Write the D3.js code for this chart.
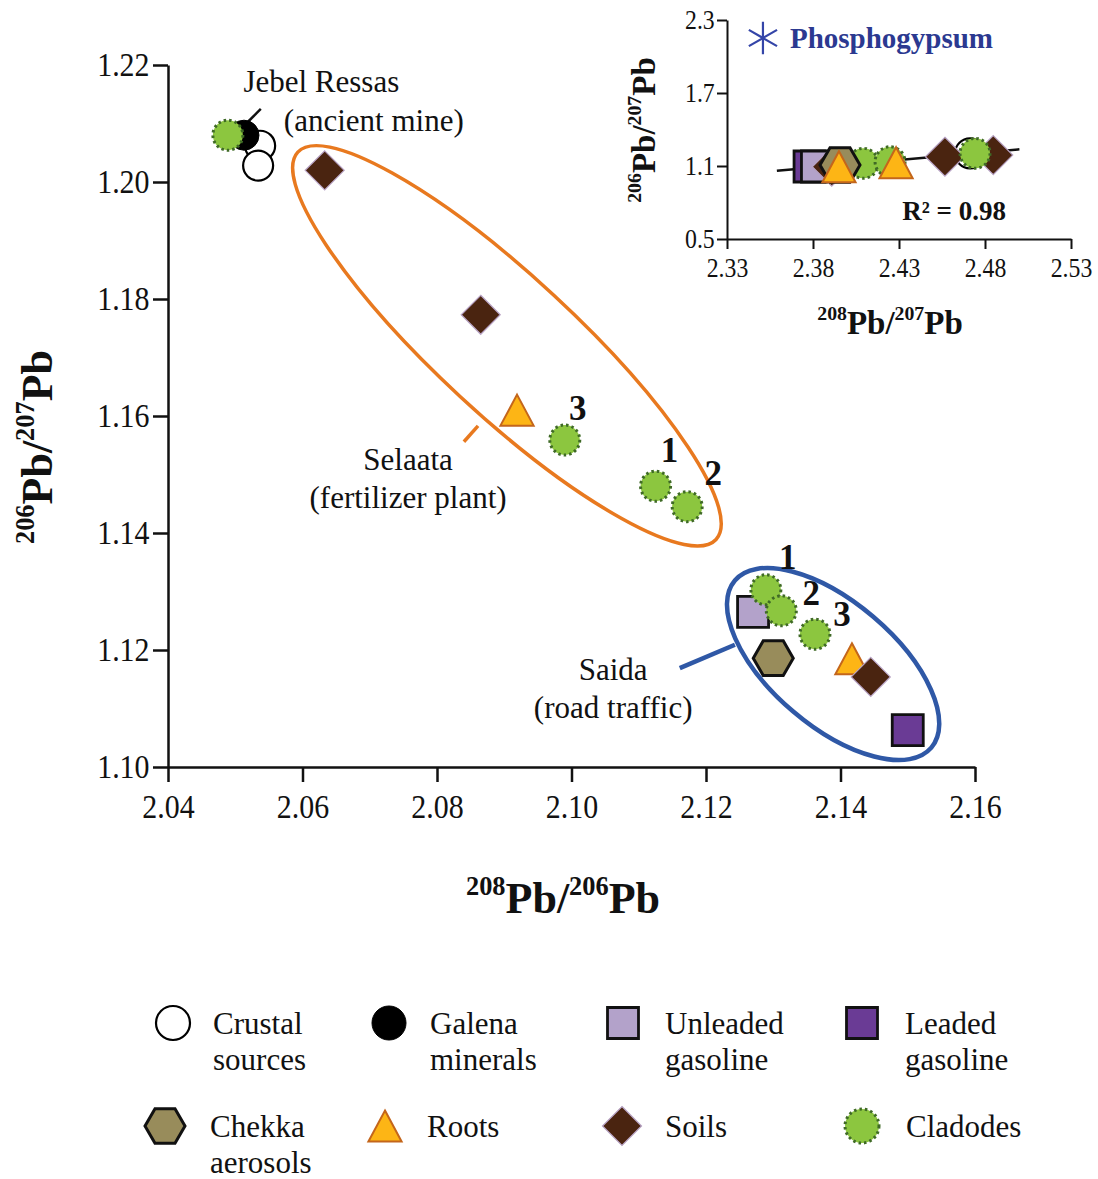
<!DOCTYPE html>
<html>
<head>
<meta charset="utf-8">
<script src="https://cdn.jsdelivr.net/npm/d3@7"></script>
<style>
  body { margin: 0; background: #fff; }
  text { font-family: "Liberation Serif", "Times New Roman", serif; fill: #111; }
</style>
</head>
<body>
<div id="chart"></div>
<script>
// main panel data: [208Pb/206Pb, 206Pb/207Pb]
var crustal  = [[2.0537, 1.2062], [2.0534, 1.2028]];
var galena   = [[2.0513, 1.2080]];
var unleaded = [[2.1270, 1.1265]];
var leaded   = [[2.1500, 1.1063]];
var chekka   = [[2.1300, 1.1186]];
var roots    = [[2.0919, 1.1610], [2.1417, 1.1185]];
var soils    = [[2.0633, 1.2020], [2.0865, 1.1773], [2.1445, 1.1154]];
var cladodes = [[2.0489, 1.2080], [2.0990, 1.1559], [2.1125, 1.1480], [2.1172, 1.1445],
                [2.1289, 1.1303], [2.1312, 1.1267], [2.1362, 1.1227]];
var cladodeLabels = ["", "3", "1", "2", "1", "2", "3"];

var xTicks = [2.04, 2.06, 2.08, 2.10, 2.12, 2.14, 2.16];
var yTicks = [1.10, 1.12, 1.14, 1.16, 1.18, 1.20, 1.22];

// inset data: [208Pb/207Pb, 206Pb/207Pb]
var insetCrustal  = [[2.4713, 1.204]];
var insetLeaded   = [[2.3780, 1.096]];
var insetUnleaded = [[2.3823, 1.096]];
var insetSoils    = [[2.3909, 1.094], [2.4567, 1.176], [2.4848, 1.190]];
var insetCladodes = [[2.4092, 1.122], [2.4248, 1.135], [2.4742, 1.204]];
var insetChekka   = [[2.3957, 1.108]];
var insetRoots    = [[2.3951, 1.094], [2.4283, 1.127]];
var insetFit      = [[2.359, 1.061], [2.500, 1.237]];
var insetXTicks = [2.33, 2.38, 2.43, 2.48, 2.53];
var insetYTicks = [0.5, 1.1, 1.7, 2.3];

var legendRows = [
  [["crustal", "Crustal", "sources"], ["galena", "Galena", "minerals"],
   ["unleaded", "Unleaded", "gasoline"], ["leaded", "Leaded", "gasoline"]],
  [["chekka", "Chekka", "aerosols"], ["roots", "Roots", ""],
   ["soils", "Soils", ""], ["cladodes", "Cladodes", ""]]
];

var SERIF = "'Liberation Serif', 'Times New Roman', serif";

// marker styles
var styles = {
  crustal:  {shape: "circle",  s: 15,   fill: "#fff",    stroke: "#000",    sw: 2.2},
  galena:   {shape: "circle",  s: 15,   fill: "#000",    stroke: "#000",    sw: 1},
  unleaded: {shape: "square",  s: 15.5, fill: "#b3a2ca", stroke: "#111",    sw: 2.8},
  leaded:   {shape: "square",  s: 15.5, fill: "#6a3b95", stroke: "#111",    sw: 2.8},
  chekka:   {shape: "hexagon", s: 20,   fill: "#988c5b", stroke: "#111",    sw: 3},
  roots:    {shape: "triangle",s: 15.5, fill: "#fdb515", stroke: "#c4661b", sw: 2},
  soils:    {shape: "diamond", s: 19.5, fill: "#4a2410", stroke: "#b9a4c6", sw: 1.2},
  cladodes: {shape: "circle",  s: 15,   fill: "#8cc63f", stroke: "#3f6a26", sw: 3, dash: "2.5,3"}
};

function shapePath(kind, s) {
  var p = d3.path();
  if (kind == "circle") {
    p.moveTo(s, 0); p.arc(0, 0, s, 0, 2 * Math.PI);
  } else if (kind == "square") {
    p.rect(-s, -s, 2 * s, 2 * s);
  } else if (kind == "diamond") {
    p.moveTo(0, -s); p.lineTo(s, 0); p.lineTo(0, s); p.lineTo(-s, 0);
  } else if (kind == "triangle") {
    p.moveTo(0, -s); p.lineTo(1.07 * s, s); p.lineTo(-1.07 * s, s);
  } else if (kind == "hexagon") {
    for (var i = 0; i < 6; i++) {
      var a = i * Math.PI / 3;
      if (i == 0) p.moveTo(s * Math.cos(a), s * Math.sin(a));
      else p.lineTo(s * Math.cos(a), s * Math.sin(a));
    }
  }
  p.closePath();
  return p.toString();
}

function drawMarkers(g, data, key, x, y) {
  var st = styles[key];
  g.append("g").selectAll("path")
    .data(data)
    .enter()
    .append("path")
    .attr("d", shapePath(st.shape, st.s))
    .attr("transform", d => `translate(${x(d[0])},${y(d[1])})`)
    .attr("fill", st.fill)
    .attr("stroke", st.stroke)
    .attr("stroke-width", st.sw)
    .attr("stroke-dasharray", st.dash || null);
}

// text with superscript mass numbers
function isoLabel(g, parts, size) {
  var t = g.append("text")
    .attr("text-anchor", "middle")
    .attr("font-weight", "bold")
    .attr("font-size", size);
  var up = false;
  parts.forEach(function(p) {
    var sup = /^\d+$/.test(p);
    var ts = t.append("tspan").text(p);
    if (sup) {
      ts.attr("font-size", size * 0.6).attr("dy", up ? 0 : -size * 0.42);
      up = true;
    } else {
      ts.attr("dy", up ? size * 0.42 : 0);
      up = false;
    }
  });
  return t;
}

// condensed serif tick labels like the original figure
function styleAxis(g, fontSize, lineWidth) {
  g.attr("font-family", SERIF);
  g.selectAll(".domain, .tick line").attr("stroke", "#111").attr("stroke-width", lineWidth);
  g.selectAll(".tick text")
    .attr("font-size", fontSize)
    .attr("fill", "#222")
    .attr("transform", "scale(0.88,1)")
    .style("font-family", SERIF);
}

var svgWidth = 1098;
var svgHeight = 1179;

var svg = d3.select("#chart")
  .append("svg")
  .attr("width", svgWidth)
  .attr("height", svgHeight)
  .attr("font-family", SERIF);

// ---------- main panel ----------
var x = d3.scaleLinear().domain([2.04, 2.16]).range([168, 975]);
var y = d3.scaleLinear().domain([1.10, 1.22]).range([767, 65]);

var main = svg.append("g");

var xAxisG = main.append("g")
  .attr("transform", `translate(0, ${y(1.10)})`)
  .call(d3.axisBottom(x).tickValues(xTicks).tickFormat(d3.format(".2f"))
    .tickSize(15).tickSizeOuter(0).tickPadding(12));
styleAxis(xAxisG, 34, 2.5);

var yAxisG = main.append("g")
  .attr("transform", `translate(${x(2.04)}, 0)`)
  .call(d3.axisLeft(y).tickValues(yTicks).tickFormat(d3.format(".2f"))
    .tickSize(15).tickSizeOuter(0).tickPadding(6));
styleAxis(yAxisG, 34, 2.5);

// group ellipses
var ellipses = [
  {cx: 2.0904, cy: 1.1720, rx: 285, ry: 69, angle: 42.8, color: "#e8791f", sw: 3.5},
  {cx: 2.1389, cy: 1.1176, rx: 129, ry: 62, angle: 40.4, color: "#2f58a6", sw: 4.5}
];
main.selectAll("ellipse")
  .data(ellipses)
  .enter()
  .append("ellipse")
  .attr("transform", d => `translate(${x(d.cx)},${y(d.cy)}) rotate(${d.angle})`)
  .attr("rx", d => d.rx)
  .attr("ry", d => d.ry)
  .attr("fill", "none")
  .attr("stroke", d => d.color)
  .attr("stroke-width", d => d.sw);

// leader lines
var leaders = [
  {x1: 2.0519, y1: 1.2103, x2: 2.0538, y2: 1.2125, color: "#111", sw: 2.5},
  {x1: 2.0840, y1: 1.1556, x2: 2.0861, y2: 1.1583, color: "#e8791f", sw: 3.5},
  {x1: 2.1161, y1: 1.1169, x2: 2.1243, y2: 1.1209, color: "#2f58a6", sw: 4.5}
];
main.selectAll("line.leader")
  .data(leaders)
  .enter()
  .append("line")
  .attr("class", "leader")
  .attr("x1", d => x(d.x1)).attr("y1", d => y(d.y1))
  .attr("x2", d => x(d.x2)).attr("y2", d => y(d.y2))
  .attr("stroke", d => d.color)
  .attr("stroke-width", d => d.sw);

var notes = [
  {x: 2.0628, y: 1.2154, text: "Jebel Ressas"},
  {x: 2.0706, y: 1.2087, text: "(ancient mine)"},
  {x: 2.0757, y: 1.1508, text: "Selaata"},
  {x: 2.0757, y: 1.1443, text: "(fertilizer plant)"},
  {x: 2.1062, y: 1.1149, text: "Saida"},
  {x: 2.1062, y: 1.1084, text: "(road traffic)"}
];
main.selectAll("text.note")
  .data(notes)
  .enter()
  .append("text")
  .attr("class", "note")
  .attr("x", d => x(d.x))
  .attr("y", d => y(d.y))
  .attr("text-anchor", "middle")
  .attr("font-size", 31)
  .text(d => d.text);

drawMarkers(main, crustal, "crustal", x, y);
drawMarkers(main, galena, "galena", x, y);
drawMarkers(main, unleaded, "unleaded", x, y);
drawMarkers(main, leaded, "leaded", x, y);
drawMarkers(main, chekka, "chekka", x, y);
drawMarkers(main, roots, "roots", x, y);
drawMarkers(main, soils, "soils", x, y);
drawMarkers(main, cladodes, "cladodes", x, y);

// sample numbers next to cladodes
var labelOffsets = [[0, 0], [13, -20], [14, -24], [26, -22], [22, -21], [30, -6], [27, -8]];
main.selectAll("text.num")
  .data(cladodes)
  .enter()
  .append("text")
  .attr("class", "num")
  .attr("x", (d, i) => x(d[0]) + labelOffsets[i][0])
  .attr("y", (d, i) => y(d[1]) + labelOffsets[i][1])
  .attr("text-anchor", "middle")
  .attr("font-size", 35)
  .attr("font-weight", "bold")
  .text((d, i) => cladodeLabels[i]);

// axis titles
isoLabel(main.append("g").attr("transform", "translate(52, 447) rotate(-90)"),
  ["206", "Pb/", "207", "Pb"], 44);
isoLabel(main.append("g").attr("transform", "translate(563, 913)"),
  ["208", "Pb/", "206", "Pb"], 44);

// ---------- inset ----------
var ix = d3.scaleLinear().domain([2.33, 2.53]).range([727, 1071]);
var iy = d3.scaleLinear().domain([0.5, 2.3]).range([239, 20]);

var inset = svg.append("g");

var ixAxisG = inset.append("g")
  .attr("transform", `translate(0, ${iy(0.5)})`)
  .call(d3.axisBottom(ix).tickValues(insetXTicks).tickFormat(d3.format(".2f"))
    .tickSize(10).tickSizeOuter(0).tickPadding(9));
styleAxis(ixAxisG, 27, 2);

var iyAxisG = inset.append("g")
  .attr("transform", `translate(${ix(2.33)}, 0)`)
  .call(d3.axisLeft(iy).tickValues(insetYTicks).tickFormat(d3.format(".1f"))
    .tickSize(10).tickSizeOuter(0).tickPadding(4));
styleAxis(iyAxisG, 27, 2);

inset.append("path")
  .datum(insetFit)
  .attr("d", d3.line().x(d => ix(d[0])).y(d => iy(d[1])))
  .attr("stroke", "#111")
  .attr("stroke-width", 2.5)
  .attr("fill", "none");

drawMarkers(inset, insetCrustal, "crustal", ix, iy);
drawMarkers(inset, insetLeaded, "leaded", ix, iy);
drawMarkers(inset, insetUnleaded, "unleaded", ix, iy);
drawMarkers(inset, insetSoils, "soils", ix, iy);
drawMarkers(inset, insetCladodes, "cladodes", ix, iy);
drawMarkers(inset, insetChekka, "chekka", ix, iy);
drawMarkers(inset, insetRoots, "roots", ix, iy);

inset.append("path")
  .attr("d", d3.symbol(d3.symbolAsterisk, 750)())
  .attr("transform", `translate(${ix(2.3509)},${iy(2.152)})`)
  .attr("fill", "none")
  .attr("stroke", "#3445a8")
  .attr("stroke-width", 2.2);

inset.append("text")
  .attr("x", ix(2.3666))
  .attr("y", iy(2.069))
  .attr("font-size", 29)
  .attr("font-weight", "bold")
  .style("fill", "#2b3990")
  .text("Phosphogypsum");

inset.append("text")
  .attr("x", ix(2.462))
  .attr("y", iy(0.656))
  .attr("text-anchor", "middle")
  .attr("font-size", 27)
  .attr("font-weight", "bold")
  .text("R² = 0.98");

isoLabel(inset.append("g").attr("transform", "translate(655, 130) rotate(-90)"),
  ["206", "Pb/", "207", "Pb"], 33);
isoLabel(inset.append("g").attr("transform", "translate(890, 334)"),
  ["208", "Pb/", "207", "Pb"], 33);

// ---------- legend ----------
var legendX = [[173, 389, 623, 862], [165, 385, 622, 862]];
var legendTextX = [[213, 430, 665, 905], [210, 427, 665, 906]];
var legendY = [1023, 1126];
var legend = svg.append("g");

legendRows.forEach(function(row, r) {
  row.forEach(function(item, c) {
    var st = styles[item[0]];
    var s = st.shape == "circle" ? st.s + 2 : st.s;
    legend.append("path")
      .attr("d", shapePath(st.shape, s))
      .attr("transform", `translate(${legendX[r][c]},${legendY[r]})`)
      .attr("fill", st.fill)
      .attr("stroke", st.stroke)
      .attr("stroke-width", st.sw)
      .attr("stroke-dasharray", st.dash || null);
    var t = legend.append("text")
      .attr("x", legendTextX[r][c])
      .attr("y", legendY[r] + 11)
      .attr("font-size", 31);
    t.append("tspan").text(item[1]);
    if (item[2]) {
      t.append("tspan").attr("x", legendTextX[r][c]).attr("dy", 36).text(item[2]);
    }
  });
});
</script>
</body>
</html>
